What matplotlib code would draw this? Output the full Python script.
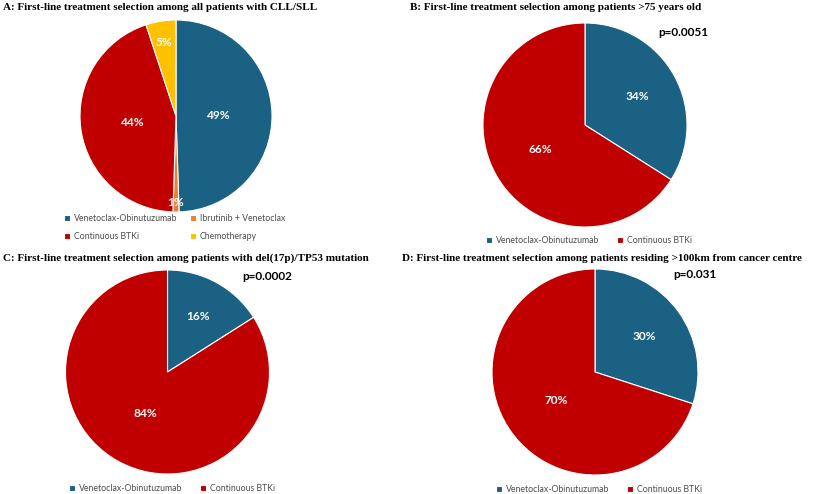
import matplotlib.pyplot as plt
import numpy as np

W, H = 813, 494

# panel data
a_labels = ["Venetoclax-Obinutuzumab", "Ibrutinib + Venetoclax", "Continuous BTKi", "Chemotherapy"]
a_values = [49, 1, 44, 5]
two_labels = ["Venetoclax-Obinutuzumab", "Continuous BTKi"]
b_values = [34, 66]
c_values = [16, 84]
d_values = [30, 70]

titles = [
    "A: First-line treatment selection among all patients with CLL/SLL",
    "B: First-line treatment selection among patients >75 years old",
    "C: First-line treatment selection among patients with del(17p)/TP53 mutation",
    "D: First-line treatment selection among patients residing >100km from cancer centre",
]
pvalues = [None, "p=0.0051", "p=0.0002", "p=0.031"]

blue = "#1B6184"
red = "#C00000"
orange = "#ED7D31"
yellow = "#FFC000"
a_colors = [blue, orange, red, yellow]
two_colors = [blue, red]

fig = plt.figure(figsize=(W / 100, H / 100), dpi=100)
fig.patch.set_facecolor("white")


def fx(x):
    return x / W


def fy(y):
    return 1 - y / H


def draw_pie(cx, cy, r, values, colors, label_dist):
    ax = fig.add_axes([fx(cx - r), fy(cy + r), 2 * r / W, 2 * r / H])
    wedges, _ = ax.pie(values, colors=colors, startangle=90, counterclock=False,
                       radius=1, wedgeprops=dict(edgecolor="white", linewidth=0.8))
    ax.set_xlim(-1, 1)
    ax.set_ylim(-1, 1)
    total = sum(values)
    for w, v, d in zip(wedges, values, label_dist):
        mid = np.deg2rad((w.theta1 + w.theta2) / 2)
        ax.text(d * np.cos(mid), d * np.sin(mid), f"{round(100 * v / total)}%",
                ha="center", va="center", color="white", fontsize=8.6,
                fontweight="bold", family="Lato")
    return ax, wedges


leg_kw = dict(frameon=False, handlelength=0.7, handleheight=0.7,
              handletextpad=0.45, borderaxespad=0, borderpad=0,
              labelcolor="#4d4d4d", prop={"family": "Lato", "size": 6.3})

# Panel A
ax, wedges = draw_pie(176, 116, 96, a_values, a_colors, [0.44, 0.9, 0.46, 0.78])
order = [0, 2, 1, 3]
fig.legend([wedges[i] for i in order], [a_labels[i] for i in order], ncol=2,
           loc="upper left", bbox_to_anchor=(fx(64), fy(214)), columnspacing=1.4,
           labelspacing=1.0, **leg_kw)

# Panel B
ax, wedges = draw_pie(585, 125, 102, b_values, two_colors, [0.59, 0.5])
fig.legend(wedges, two_labels, ncol=2, loc="upper left",
           bbox_to_anchor=(fx(486), fy(236)), columnspacing=2.0, **leg_kw)

# Panel C
ax, wedges = draw_pie(167.5, 372, 102, c_values, two_colors, [0.62, 0.46])
fig.legend(wedges, two_labels, ncol=2, loc="upper left",
           bbox_to_anchor=(fx(69), fy(484)), columnspacing=2.0, **leg_kw)

# Panel D
ax, wedges = draw_pie(595, 372, 103, d_values, two_colors, [0.59, 0.47])
fig.legend(wedges, two_labels, ncol=2, loc="upper left",
           bbox_to_anchor=(fx(496), fy(485)), columnspacing=2.0, **leg_kw)

# titles
title_pos = [(3, 8), (410, 8), (3, 258), (402, 258)]
for (x, y), t in zip(title_pos, titles):
    fig.text(fx(x), fy(y), t, ha="left", va="center", fontsize=8,
             fontweight="bold", family="Liberation Serif")

# p values
p_pos = [None, (658, 32), (242, 277), (673, 274)]
for pos, p in zip(p_pos, pvalues):
    if p:
        fig.text(fx(pos[0]), fy(pos[1]), p, ha="left", va="center", fontsize=8.5,
                 fontweight="bold", family="Lato")

fig.savefig("out.png", dpi=100)
